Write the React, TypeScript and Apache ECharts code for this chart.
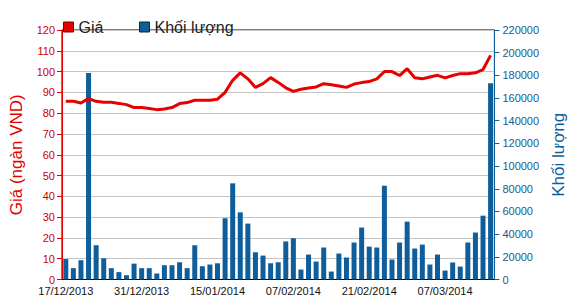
import React, { useEffect, useRef } from "react";
import * as echarts from "echarts";

const dates = [
  "17/12/2013", "18/12/2013", "19/12/2013", "20/12/2013", "23/12/2013", "24/12/2013", "25/12/2013", "26/12/2013", "27/12/2013", "30/12/2013",
  "31/12/2013", "02/01/2014", "03/01/2014", "06/01/2014", "07/01/2014", "08/01/2014", "09/01/2014", "10/01/2014", "13/01/2014", "14/01/2014",
  "15/01/2014", "16/01/2014", "17/01/2014", "20/01/2014", "21/01/2014", "22/01/2014", "23/01/2014", "24/01/2014", "27/01/2014", "28/01/2014",
  "07/02/2014", "10/02/2014", "11/02/2014", "12/02/2014", "13/02/2014", "14/02/2014", "17/02/2014", "18/02/2014", "19/02/2014", "20/02/2014",
  "21/02/2014", "24/02/2014", "25/02/2014", "26/02/2014", "27/02/2014", "28/02/2014", "03/03/2014", "04/03/2014", "05/03/2014", "06/03/2014",
  "07/03/2014", "10/03/2014", "11/03/2014", "12/03/2014", "13/03/2014", "14/03/2014", "17/03/2014",
];

const price = [
  85.7, 85.7, 84.9, 87.0, 85.7, 85.2, 85.2, 84.7, 84.1, 82.7,
  82.7, 82.2, 81.7, 82.0, 82.7, 84.6, 85.1, 86.2, 86.2, 86.2,
  86.7, 90.0, 95.8, 99.4, 96.5, 92.4, 94.2, 97.1, 94.8, 92.2,
  90.5, 91.5, 92.1, 92.6, 94.2, 93.7, 93.1, 92.4, 94.0, 94.7,
  95.2, 96.5, 100.0, 100.0, 98.1, 101.4, 97.0, 96.5, 97.4, 98.2,
  97.0, 98.1, 99.0, 99.0, 99.4, 101.0, 107.8,
];

const volume = [
  18000, 10000, 17000, 182000, 30200, 18700, 10000, 6500, 3800, 14000,
  10000, 10000, 5300, 12600, 12600, 15200, 10000, 30200, 11700, 13200,
  14300, 54000, 84800, 59200, 49300, 24000, 21100, 14300, 15200, 33600,
  36400, 8800, 22000, 15800, 28200, 7000, 22900, 19400, 32600, 45800,
  29000, 28200, 82700, 17600, 32600, 51000, 27300, 30800, 13200, 22000,
  7900, 15000, 11400, 32600, 41400, 56300, 173000,
];

const RED = "#e60000";
const BLUE = "#0f5e9c";
const FONT = "Liberation Sans, Arial, sans-serif";

export default function App() {
  const ref = useRef<HTMLDivElement>(null);
  useEffect(() => {
    if (!ref.current) return;
    const chart = echarts.init(ref.current, undefined, { renderer: "svg" });
    chart.setOption({
      animation: false,
      textStyle: { fontFamily: FONT },
      legend: [
        {
          left: 58,
          top: 14,
          itemWidth: 10,
          itemHeight: 10,
          textStyle: { fontSize: 16, color: "#222", fontFamily: FONT },
          data: [{ name: "Giá", icon: "rect", itemStyle: { color: RED, borderColor: "#700", borderWidth: 1 } }],
        },
        {
          left: 134,
          top: 14,
          itemWidth: 10,
          itemHeight: 10,
          textStyle: { fontSize: 16, color: "#222", fontFamily: FONT },
          data: [{ name: "Khối lượng", icon: "rect", itemStyle: { color: BLUE, borderColor: "#032", borderWidth: 1 } }],
        },
      ],
      grid: {
        left: 51,
        right: 75,
        top: 30,
        bottom: 20.5,
        show: true,
        borderColor: "#000",
        borderWidth: 1,
        backgroundColor: "transparent",
      },
      xAxis: {
        type: "category",
        data: dates,
        boundaryGap: true,
        axisLine: { lineStyle: { color: "#000", width: 1 } },
        axisTick: { interval: 9, alignWithLabel: true, length: 5, lineStyle: { color: "#000" } },
        axisLabel: { interval: 9, fontSize: 11, color: "#111", margin: 6, fontFamily: FONT },
        splitLine: { show: false },
      },
      yAxis: [
        {
          type: "value",
          min: 0,
          max: 120,
          interval: 10,
          position: "left",
          name: "Giá (ngàn VND)",
          nameLocation: "middle",
          nameGap: 37,
          nameTextStyle: { color: RED, fontSize: 17, fontFamily: FONT },
          axisLine: { show: true, lineStyle: { color: RED, width: 1 } },
          axisTick: { show: true, length: 5, lineStyle: { color: RED } },
          axisLabel: { color: "#cc0000", fontSize: 11, margin: 7, fontFamily: FONT },
          splitLine: { show: true, lineStyle: { color: "#c4c4c4", width: 1 } },
        },
        {
          type: "value",
          min: 0,
          max: 220000,
          interval: 20000,
          position: "right",
          name: "Khối lượng",
          nameLocation: "middle",
          nameGap: 55,
          nameRotate: 90,
          nameTextStyle: { color: BLUE, fontSize: 17, fontFamily: FONT },
          axisLine: { show: true, lineStyle: { color: BLUE, width: 1 } },
          axisTick: { show: true, length: 5, lineStyle: { color: BLUE } },
          axisLabel: { color: "#1a5a88", fontSize: 11, margin: 8, fontFamily: FONT, formatter: (v: number) => String(v) },
          splitLine: { show: false },
        },
      ],
      series: [
        {
          name: "Khối lượng",
          type: "bar",
          yAxisIndex: 1,
          data: volume,
          barWidth: 5,
          itemStyle: { color: BLUE },
          z: 2,
        },
        {
          name: "Giá",
          type: "line",
          yAxisIndex: 0,
          data: price,
          symbol: "none",
          lineStyle: { color: RED, width: 3 },
          itemStyle: { color: RED },
          z: 3,
        },
      ],
    });
    return () => chart.dispose();
  }, []);
  return <div ref={ref} style={{ width: 575, height: 300, position: "absolute", left: 0, top: 0 }} />;
}
